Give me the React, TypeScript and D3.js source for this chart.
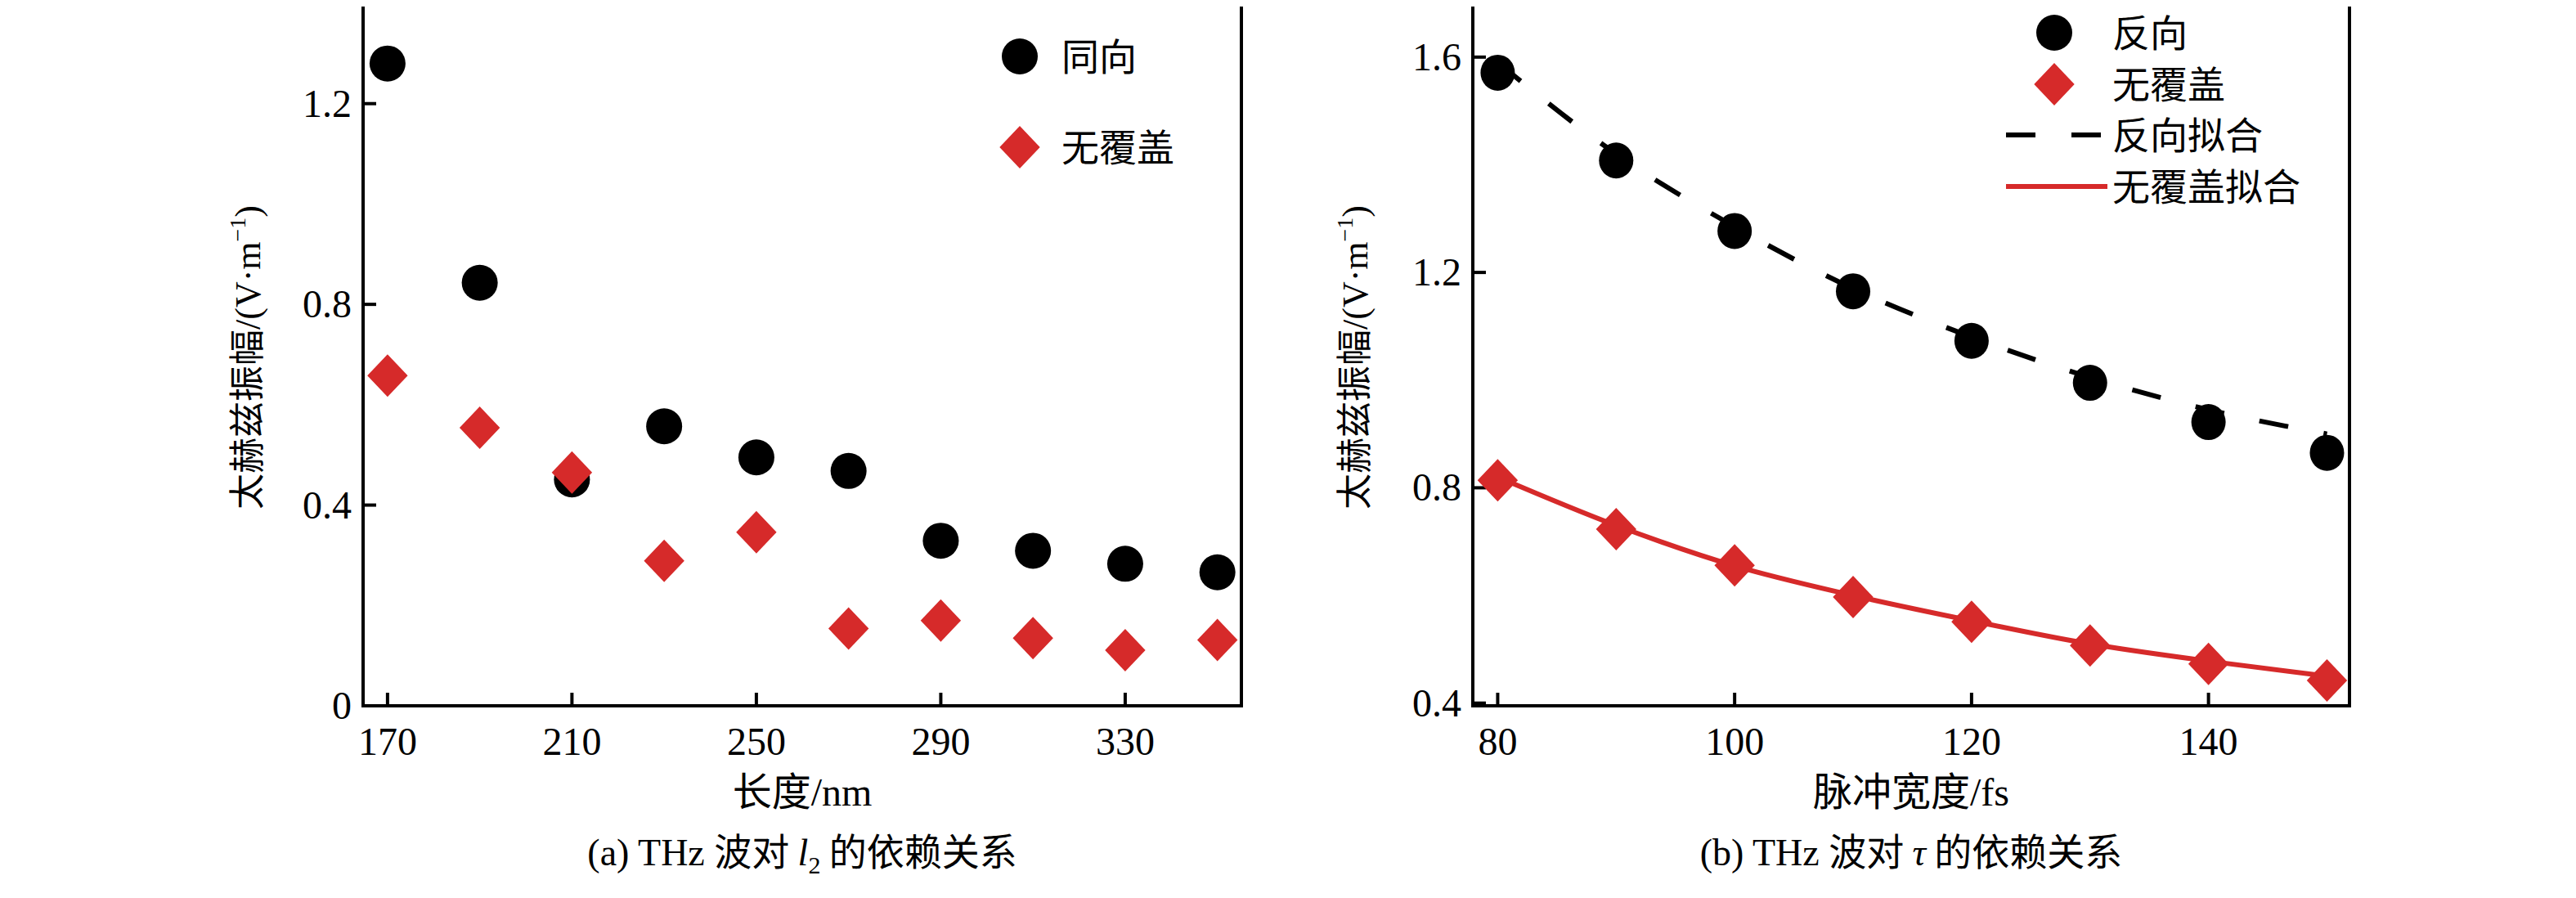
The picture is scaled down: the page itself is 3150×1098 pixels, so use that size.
import * as d3 from "d3";

const lenX = [170, 190, 210, 230, 250, 270, 290, 310, 330, 350];
const sameDir = [1.28, 0.843, 0.451, 0.557, 0.495, 0.468, 0.329, 0.309, 0.283, 0.266];
const noCoverA = [0.658, 0.554, 0.465, 0.289, 0.346, 0.154, 0.17, 0.135, 0.111, 0.131];
const lenTicks = [170, 210, 250, 290, 330];
const ampTicksA = [0, 0.4, 0.8, 1.2];

const pulseX = [80, 90, 100, 110, 120, 130, 140, 150];
const reverseDir = [1.571, 1.408, 1.277, 1.165, 1.073, 0.995, 0.922, 0.865];
const noCoverB = [0.814, 0.723, 0.656, 0.597, 0.551, 0.507, 0.473, 0.442];
const reverseFit = [1.59, 1.42, 1.285, 1.17, 1.08, 1.005, 0.945, 0.9];
const noCoverFit = [0.82, 0.73, 0.655, 0.6, 0.553, 0.51, 0.478, 0.45];
const pulseTicks = [80, 100, 120, 140];
const ampTicksB = [0.4, 0.8, 1.2, 1.6];

const SERIF = "'Liberation Serif', 'Times New Roman', serif";
const CJK = "'Noto Sans CJK SC', sans-serif";
const RED = "#d62a2a";

function diamond(x: number, y: number, s = 26) {
  return `M${x},${y - s}L${x + s * 0.95},${y}L${x},${y + s}L${x - s * 0.95},${y}Z`;
}

function Frame({ x, y, xTicks, yTicks, fmtY }: any) {
  const [x0, x1] = x.range();
  const [y0, y1] = y.range();
  return (
    <g>
      <rect x={x0} y={y1} width={x1 - x0} height={y0 - y1} fill="none" stroke="#000" strokeWidth={4} />
      {xTicks.map((t: number) => (
        <g key={"x" + t}>
          <line x1={x(t)} x2={x(t)} y1={y0} y2={y0 - 16} stroke="#000" strokeWidth={4} />
          <text x={x(t)} y={y0 + 60} textAnchor="middle" fontFamily={SERIF} fontSize={48}>{t}</text>
        </g>
      ))}
      {yTicks.map((t: number) => (
        <g key={"y" + t}>
          <line x1={x0} x2={x0 + 16} y1={y(t)} y2={y(t)} stroke="#000" strokeWidth={4} />
          <text x={x0 - 14} y={y(t) + 16} textAnchor="end" fontFamily={SERIF} fontSize={48}>{fmtY(t)}</text>
        </g>
      ))}
    </g>
  );
}

function YTitle({ cx, cy }: { cx: number; cy: number }) {
  return (
    <text transform={`translate(${cx},${cy}) rotate(-90)`} textAnchor="middle" fontSize={44}>
      <tspan fontFamily={CJK}>太赫兹振幅</tspan>
      <tspan fontFamily={SERIF}>/(V·m</tspan>
      <tspan fontFamily={SERIF} fontSize={28} dy={-18}>−1</tspan>
      <tspan fontFamily={SERIF} dy={18}>)</tspan>
    </text>
  );
}

export default function App() {
  const xa = d3.scaleLinear().domain([164.7, 355.2]).range([444, 1518]);
  const ya = d3.scaleLinear().domain([0, 1.4]).range([863, 4]);
  const xb = d3.scaleLinear().domain([77.9, 151.9]).range([1801, 2873]);
  const yb = d3.scaleLinear().domain([0.395, 1.7]).range([863, 4]);
  const fmt = (t: number) => (t === 0 ? "0" : t.toFixed(1));
  const lineB = (vals: number[]) =>
    d3.line<number>().x((_, i) => xb(pulseX[i])).y((v) => yb(v)).curve(d3.curveMonotoneX)(vals) || "";

  return (
    <svg width={3150} height={1098} style={{ display: "block", margin: -8 }}>
      <rect width={3150} height={1098} fill="#fff" />
      {/* (a) */}
      <Frame x={xa} y={ya} xTicks={lenTicks} yTicks={ampTicksA} fmtY={fmt} />
      {lenX.map((v, i) => (
        <ellipse key={"c" + i} cx={xa(v)} cy={ya(sameDir[i])} rx={22} ry={22} fill="#000" />
      ))}
      {lenX.map((v, i) => (
        <path key={"d" + i} d={diamond(xa(v), ya(noCoverA[i]))} fill={RED} />
      ))}
      <circle cx={1247} cy={69} r={22} fill="#000" />
      <text x={1298} y={86} fontFamily={CJK} fontSize={46}>同向</text>
      <path d={diamond(1247, 180)} fill={RED} />
      <text x={1298} y={197} fontFamily={CJK} fontSize={46}>无覆盖</text>
      <YTitle cx={318} cy={437} />
      <text x={981} y={985} textAnchor="middle" fontSize={48}>
        <tspan fontFamily={CJK}>长度</tspan>
        <tspan fontFamily={SERIF}>/nm</tspan>
      </text>
      <text x={981} y={1058} textAnchor="middle" fontSize={46}>
        <tspan fontFamily={SERIF}>(a) THz </tspan>
        <tspan fontFamily={CJK}>波对 </tspan>
        <tspan fontFamily={SERIF} fontStyle="italic">l</tspan>
        <tspan fontFamily={SERIF} fontSize={30} dy={10}>2</tspan>
        <tspan fontFamily={CJK} dy={-10}> 的依赖关系</tspan>
      </text>

      {/* (b) */}
      <Frame x={xb} y={yb} xTicks={pulseTicks} yTicks={ampTicksB} fmtY={fmt} />
      <path d={lineB(reverseFit)} fill="none" stroke="#000" strokeWidth={6} strokeDasharray="36 44" />
      <path d={lineB(noCoverFit)} fill="none" stroke={RED} strokeWidth={6} />
      {pulseX.map((v, i) => (
        <ellipse key={"rc" + i} cx={xb(v)} cy={yb(reverseDir[i])} rx={21} ry={22} fill="#000" />
      ))}
      {pulseX.map((v, i) => (
        <path key={"rd" + i} d={diamond(xb(v), yb(noCoverB[i]))} fill={RED} />
      ))}
      <circle cx={2512} cy={40} r={22} fill="#000" />
      <text x={2583} y={57} fontFamily={CJK} fontSize={46}>反向</text>
      <path d={diamond(2512, 103)} fill={RED} />
      <text x={2583} y={120} fontFamily={CJK} fontSize={46}>无覆盖</text>
      <line x1={2453} x2={2577} y1={165} y2={165} stroke="#000" strokeWidth={6} strokeDasharray="36 44" />
      <text x={2583} y={182} fontFamily={CJK} fontSize={46}>反向拟合</text>
      <line x1={2453} x2={2577} y1={228} y2={228} stroke={RED} strokeWidth={6} />
      <text x={2583} y={245} fontFamily={CJK} fontSize={46}>无覆盖拟合</text>
      <YTitle cx={1672} cy={437} />
      <text x={2337} y={985} textAnchor="middle" fontSize={48}>
        <tspan fontFamily={CJK}>脉冲宽度</tspan>
        <tspan fontFamily={SERIF}>/fs</tspan>
      </text>
      <text x={2337} y={1058} textAnchor="middle" fontSize={46}>
        <tspan fontFamily={SERIF}>(b) THz </tspan>
        <tspan fontFamily={CJK}>波对 </tspan>
        <tspan fontFamily={SERIF} fontStyle="italic">τ</tspan>
        <tspan fontFamily={CJK}> 的依赖关系</tspan>
      </text>
    </svg>
  );
}
